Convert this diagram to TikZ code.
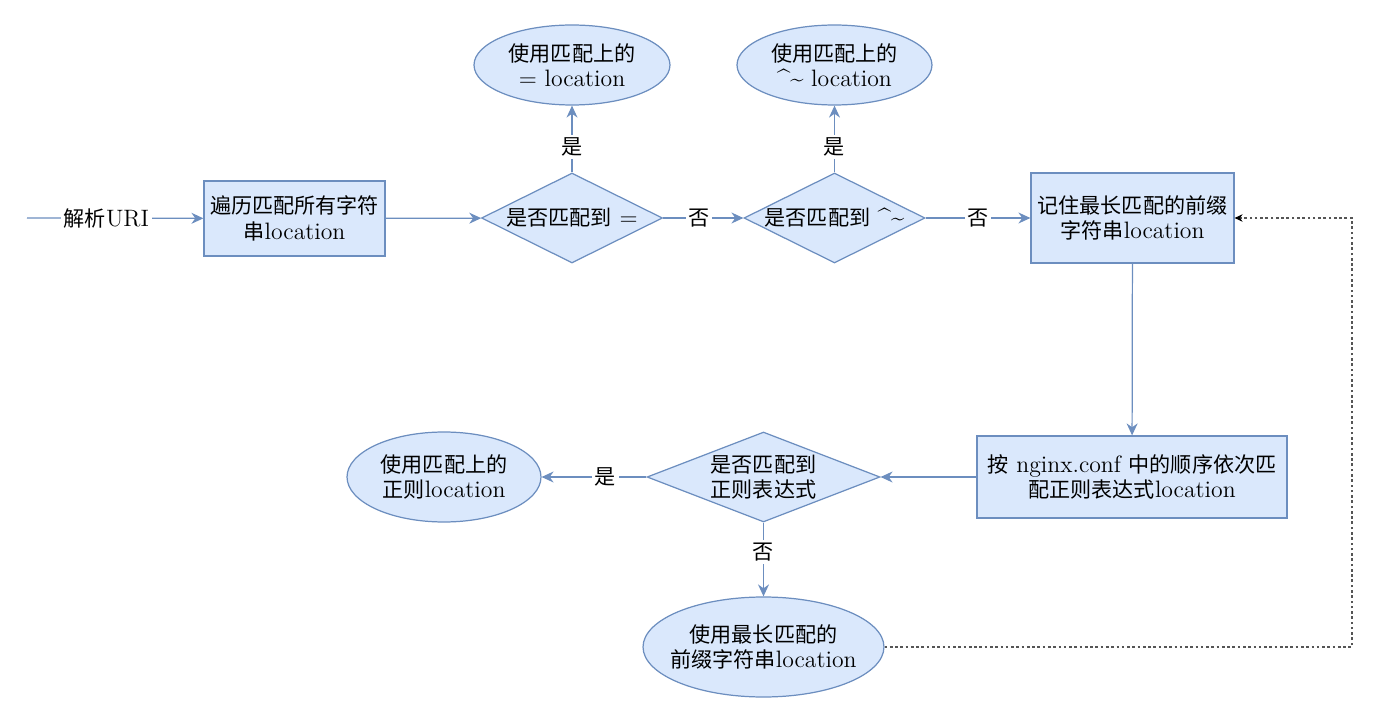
\documentclass[tikz,border=0pt]{standalone}
\usepackage{fontspec}
\newfontfamily\cjk{Noto Sans CJK SC}[Scale=0.89]
\usetikzlibrary{shapes.geometric, arrows.meta, positioning}
\definecolor{boxfill}{HTML}{DAE8FC}
\definecolor{boxline}{HTML}{6C8EBF}
\definecolor{dotline}{HTML}{555555}
\newcommand{\zh}[1]{{\cjk #1}}
\tikzset{
  >={Stealth[length=2.4mm, width=2.2mm]},
  wire/.style={draw=boxline, line width=0.7pt},
  lbl/.style={fill=white, inner sep=1.5pt},
  proc/.style={% process box
    rectangle, draw=boxline, fill=boxfill, line width=0.7pt,
    align=center, inner sep=0pt},
  test/.style={% decision, wide diamond
    diamond, aspect=2.6, draw=boxline, fill=boxfill, line width=0.7pt,
    align=center, inner sep=0pt},
  term/.style={% result ellipse
    ellipse, draw=boxline, fill=boxfill, line width=0.7pt,
    align=center, inner ysep=0pt, inner xsep=-3mm},
  back/.style={draw=dotline, line width=0.6pt, dash pattern=on 1.5pt off 1.5pt},
}
\begin{document}
\begin{tikzpicture}[x=0.02cm, y=-0.02cm, font=\fontsize{13.5}{14.5}\selectfont]
  \useasboundingbox (0,0) rectangle (1380,716);

  % ----- top row -------------------------------------------------------------
  \coordinate (in) at (27,218);
  \node[proc, minimum width=3.62cm, minimum height=1.5cm] (scan) at (294.5,218.5)
    {\zh{遍历匹配所有字符}\\\zh{串}location};
  \node[test, inner xsep=-3mm, minimum width=3.62cm, minimum height=1.8cm] (deq) at (572,218)
    {\zh{是否匹配到} =};
  \node[test, inner xsep=-3mm, minimum width=3.62cm, minimum height=1.8cm] (dpre) at (834.5,218)
    {\zh{是否匹配到} \textasciicircum\textasciitilde};
  \node[proc, minimum width=4.06cm, minimum height=1.8cm] (keep) at (1132.5,218)
    {\zh{记住最长匹配的前缀}\\\zh{字符串}location};

  % ----- exact / prefix results ---------------------------------------------
  \node[term, minimum width=3.92cm, minimum height=1.6cm] (useeq) at (572,65)
    {\zh{使用匹配上的}\\= location};
  \node[term, minimum width=3.9cm, minimum height=1.6cm] (usepre) at (834.5,65)
    {\zh{使用匹配上的}\\\textasciicircum\textasciitilde{} location};

  % ----- regex row -----------------------------------------------------------
  \node[proc, minimum width=6.2cm, minimum height=1.64cm] (regex) at (1132,477)
    {\zh{按} nginx.conf \zh{中的顺序依次匹}\\\zh{配正则表达式}location};
  \node[test, minimum width=4.66cm, minimum height=1.8cm] (dreg) at (763.5,477)
    {\zh{是否匹配到}\\\zh{正则表达式}};
  \node[term, minimum width=3.88cm, minimum height=1.8cm] (usereg) at (444,477)
    {\zh{使用匹配上的}\\\zh{正则}location};
  \node[term, minimum width=4.82cm, minimum height=2cm] (uselong) at (763.5,647)
    {\zh{使用最长匹配的}\\\zh{前缀字符串}location};
  \coordinate (bend) at (1352,218);

  % ----- connectors ----------------------------------------------------------
  \draw[wire,->] (in) -- node[lbl, pos=0.45]{\zh{解析}URI} (scan);
  \draw[wire,->] (scan) -- (deq);
  \draw[wire,->] (deq) -- node[lbl, pos=0.38]{\zh{是}} (useeq);
  \draw[wire,->] (deq) -- node[lbl, pos=0.45]{\zh{否}} (dpre);
  \draw[wire,->] (dpre) -- node[lbl, pos=0.38]{\zh{是}} (usepre);
  \draw[wire,->] (dpre) -- node[lbl, pos=0.5]{\zh{否}} (keep);
  \draw[wire,->] (keep) -- (regex);
  \draw[wire,->] (regex) -- (dreg);
  \draw[wire,->] (dreg) -- node[lbl, pos=0.39]{\zh{是}} (usereg);
  \draw[wire,->] (dreg) -- node[lbl, pos=0.4]{\zh{否}} (uselong);

  % ----- fall back to the remembered prefix ----------------------------------
  \draw[back,-{Stealth[length=1.6mm, width=1.5mm, color=black]}]
    (uselong.east) -| (bend) -- (keep.east);

\end{tikzpicture}
\end{document}
